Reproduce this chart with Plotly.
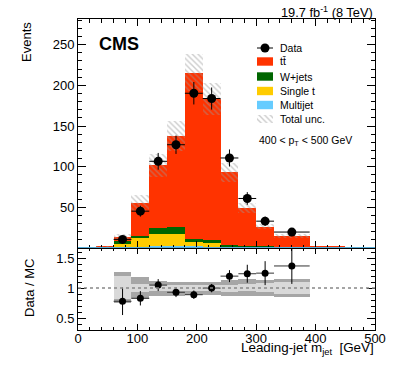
import numpy as np
import plotly.graph_objects as go

# ---------------- data ----------------
edges = [30, 60, 90, 120, 150, 180, 210, 240, 270, 300, 330, 390, 450]
multijet = [0.0, 1.0, 1.6, 2.0, 2.0, 2.0, 1.5, 1.0, 0.8, 0.5, 0.3, 0.0]
single_t = [0.0, 4.5, 11.9, 15.5, 14.8, 5.7, 5.0, 1.2, 1.0, 0.8, 0.4, 0.0]
wjets = [0.3, 3.0, 1.2, 7.4, 9.3, 2.9, 2.9, 1.5, 1.1, 1.0, 0.9, 0.2]
ttbar = [1.5, 5.3, 40.8, 76.8, 111.1, 205.1, 173.9, 89.3, 46.6, 24.0, 12.9, 1.3]
total_unc = [0.4, 3.0, 9.5, 14.0, 18.4, 23.0, 19.5, 12.0, 6.0, 3.5, 2.2, 0.3]

# data points exist for bins 60-90 ... 330-390
data_bins = slice(1, 11)
data = [10.6, 45.3, 106.6, 127.0, 190.3, 183.8, 110.7, 60.9, 33.0, 19.6]
data_err = [3.3, 6.7, 10.3, 11.3, 13.8, 13.6, 10.5, 7.8, 5.7, 4.4]

ratio = [0.78, 0.83, 1.05, 0.93, 0.89, 1.0, 1.20, 1.24, 1.25, 1.37]
ratio_err = [0.23, 0.12, 0.10, 0.08, 0.07, 0.07, 0.10, 0.15, 0.20, 0.30]
band_outer_hi = [1.265, 1.19, 1.12, 1.11, 1.11, 1.11, 1.14, 1.15, 1.13, 1.16]
band_outer_lo = [0.75, 0.825, 0.87, 0.87, 0.88, 0.88, 0.86, 0.86, 0.87, 0.845]
band_inner_hi = [1.21, 1.07, 1.05, 1.05, 1.05, 1.05, 1.06, 1.07, 1.08, 1.10]
band_inner_lo = [0.82, 0.94, 0.95, 0.95, 0.95, 0.95, 0.94, 0.96, 0.93, 0.90]

x_ticks = [0, 100, 200, 300, 400, 500]
y_ticks = [50, 100, 150, 200, 250]
r_ticks = [0.5, 1, 1.5]

# ---------------- derived geometry ----------------
e = np.array(edges, float)
centers = (e[:-1] + e[1:]) / 2
widths = np.diff(e)
d_centers = centers[data_bins]
d_halfw = widths[data_bins] / 2
d_widths = widths[data_bins]

comp = [("Multijet", multijet, "#66CCFF"),
        ("Single t", single_t, "#FFCC00"),
        ("W+jets", wjets, "#006600"),
        ("tt\u0304", ttbar, "#FF3300")]

FONT = "Liberation Sans, Arial, Helvetica, sans-serif"
YMAX = 281.6
# plot frame in window pixels
FX0, FX1, FY0, FY1 = 78, 375, 19, 330
W, H = 399, 375
L, R, T, B = FX0, W - FX1, FY0, H - FY1
PW, PH = FX1 - FX0, FY1 - FY0
SPLIT_PIX = 248
split = (FY1 - SPLIT_PIX) / PH


def P(px, py):
    # window pixel -> paper coordinates
    return (px - FX0) / PW, (FY1 - py) / PH


def D(px, py):
    # window pixel -> top-panel data coordinates
    return (px - FX0) / PW * 500, (SPLIT_PIX - py) / (SPLIT_PIX - FY0) * YMAX


fig = go.Figure()

base = np.zeros(len(centers))
for name, vals, col in comp:
    v = np.array(vals, float)
    fig.add_trace(go.Bar(x=centers, y=v, base=base, width=widths,
                         marker=dict(color=col, line=dict(width=0)),
                         xaxis="x", yaxis="y", showlegend=False, name=name))
    base = base + v
mc_total = base

unc = np.array(total_unc)
fig.add_trace(go.Bar(x=centers, y=2 * unc, base=mc_total - unc, width=widths,
                     marker=dict(color="rgba(0,0,0,0)", line=dict(width=0),
                                 pattern=dict(shape="\\", fgcolor="#9a9a9a",
                                              bgcolor="rgba(0,0,0,0)",
                                              size=4, solidity=0.35,
                                              fillmode="overlay")),
                     xaxis="x", yaxis="y", showlegend=False, name="Total unc."))

fig.add_trace(go.Scatter(x=d_centers, y=data, mode="markers",
                         marker=dict(color="black", size=9),
                         error_y=dict(type="data", array=data_err, width=0,
                                      thickness=1, color="black"),
                         error_x=dict(type="data", array=d_halfw, width=0,
                                      thickness=1, color="black"),
                         xaxis="x", yaxis="y", showlegend=False, name="Data"))

# ratio panel bands
oh, ol = np.array(band_outer_hi), np.array(band_outer_lo)
ih, il = np.array(band_inner_hi), np.array(band_inner_lo)
fig.add_trace(go.Bar(x=d_centers, y=oh - ol, base=ol, width=d_widths,
                     marker=dict(color="#a6a6a6", line=dict(width=0)),
                     xaxis="x2", yaxis="y2", showlegend=False))
fig.add_trace(go.Bar(x=d_centers, y=ih - il, base=il, width=d_widths,
                     marker=dict(color="#d9d9d9", line=dict(width=0)),
                     xaxis="x2", yaxis="y2", showlegend=False))
fig.add_trace(go.Scatter(x=d_centers, y=ratio, mode="markers",
                         marker=dict(color="black", size=7),
                         error_y=dict(type="data", array=ratio_err, width=0,
                                      thickness=1, color="black"),
                         error_x=dict(type="data", array=d_halfw, width=0,
                                      thickness=1, color="#333333"),
                         xaxis="x2", yaxis="y2", showlegend=False))

# legend hatch swatch
hx0, hy0 = D(257, 115)
hx1, hy1 = D(273, 123)
fig.add_trace(go.Scatter(x=[hx0, hx1, hx1, hx0, hx0], y=[hy0, hy0, hy1, hy1, hy0],
                         mode="lines", fill="toself", line=dict(width=0),
                         fillcolor="rgba(0,0,0,0)",
                         fillpattern=dict(shape="\\", fgcolor="#9a9a9a",
                                          bgcolor="white", size=4, solidity=0.35),
                         xaxis="x", yaxis="y", showlegend=False, hoverinfo="skip"))

axis_common = dict(showline=True, linecolor="black", linewidth=1, mirror="ticks",
                   ticks="inside", tickcolor="black", showgrid=False, zeroline=False,
                   tickfont=dict(family=FONT, size=13, color="black"))

fig.update_layout(
    width=W, height=H, margin=dict(l=L, r=R, t=T, b=B),
    paper_bgcolor="white", plot_bgcolor="white",
    barmode="overlay", bargap=0, showlegend=False,
    xaxis=dict(domain=[0, 1], range=[0, 500], anchor="y", tickvals=x_ticks,
               showticklabels=False, ticklen=7,
               minor=dict(dtick=20, tick0=0, ticks="inside", ticklen=3.5, tickcolor="black"),
               **axis_common),
    yaxis=dict(domain=[split, 1], range=[0, YMAX], anchor="x", tickvals=y_ticks,
               ticklen=8,
               minor=dict(dtick=10, tick0=0, ticks="inside", ticklen=4, tickcolor="black"),
               **axis_common),
    xaxis2=dict(domain=[0, 1], range=[0, 500], anchor="y2", tickvals=x_ticks,
                ticklen=6, ticklabelstandoff=-4,
                minor=dict(dtick=20, tick0=0, ticks="inside", ticklen=3, tickcolor="black"),
                **axis_common),
    yaxis2=dict(domain=[0, split], range=[0.3, 1.67], anchor="x2", tickvals=r_ticks,
                ticktext=["0.5", "1", "1.5"], ticklen=8,
                minor=dict(dtick=0.1, tick0=0, ticks="inside", ticklen=4, tickcolor="black"),
                **axis_common),
)

shapes = []
# dotted line at ratio 1
shapes.append(dict(type="line", xref="x2 domain", yref="y2", x0=0, x1=1, y0=1, y1=1,
                   line=dict(color="#888888", width=1.5, dash="dot"), layer="above"))
# thin multijet baseline
shapes.append(dict(type="line", xref="x domain", yref="y", x0=0, x1=1, y0=0.4, y1=0.4,
                   line=dict(color="#66CCFF", width=1), layer="above"))

ann = []


def text(t, px, py, xa="left", ya="middle", size=10.5, bold=False, angle=0, pad=1):
    x, y = P(px, py)
    ann.append(dict(text=f"<b>{t}</b>" if bold else t, x=x, y=y, xref="paper", yref="paper",
                    xanchor=xa, yanchor=ya, showarrow=False, textangle=angle,
                    borderpad=pad, font=dict(family=FONT, size=size, color="black")))


# legend: Data
lx0, ly = P(257, 48)
lx1, _ = P(273, 48)
shapes.append(dict(type="line", xref="paper", yref="paper", x0=lx0, x1=lx1, y0=ly, y1=ly,
                   line=dict(color="black", width=1)))
mx, my = P(265, 48)
shapes.append(dict(type="circle", xref="paper", yref="paper",
                   x0=mx - 4.5 / PW, x1=mx + 4.5 / PW, y0=my - 4.5 / PH, y1=my + 4.5 / PH,
                   fillcolor="black", line=dict(width=0)))
text("Data", 278, 48)

rows = [("tt\u0304", "#FF3300", 61.5), ("W+jets", "#006600", 76.5),
        ("Single t", "#FFCC00", 91), ("Multijet", "#66CCFF", 105)]
for name, col, yc in rows:
    x0, y0 = P(257, yc + 4.2)
    x1, y1 = P(273, yc - 4.2)
    shapes.append(dict(type="rect", xref="paper", yref="paper", x0=x0, x1=x1, y0=y0, y1=y1,
                       fillcolor=col, line=dict(width=0)))
    text(name, 278, yc)
text("Total unc.", 278, 119)
text("400 < p<sub>T</sub> < 500 GeV", 257, 141)
text("CMS", 97, 44, size=18, bold=True)

# luminosity label
text("19.7 fb<sup>-1</sup> (8 TeV)", 374, 12, xa="right", ya="middle", size=12.8, pad=0)

text("Events", 27, 20, xa="center", ya="top", size=13, angle=-90)
text("Data / MC", 29, 288, xa="center", ya="middle", size=13, angle=-90)
text("Leading-jet m<sub>jet</sub>  [GeV]", 376, 338, xa="right", ya="top", size=13.4)

fig.update_layout(shapes=shapes, annotations=ann)
fig.write_html("out.html", config={"displayModeBar": False},
               post_script="document.body.style.margin='0';")
